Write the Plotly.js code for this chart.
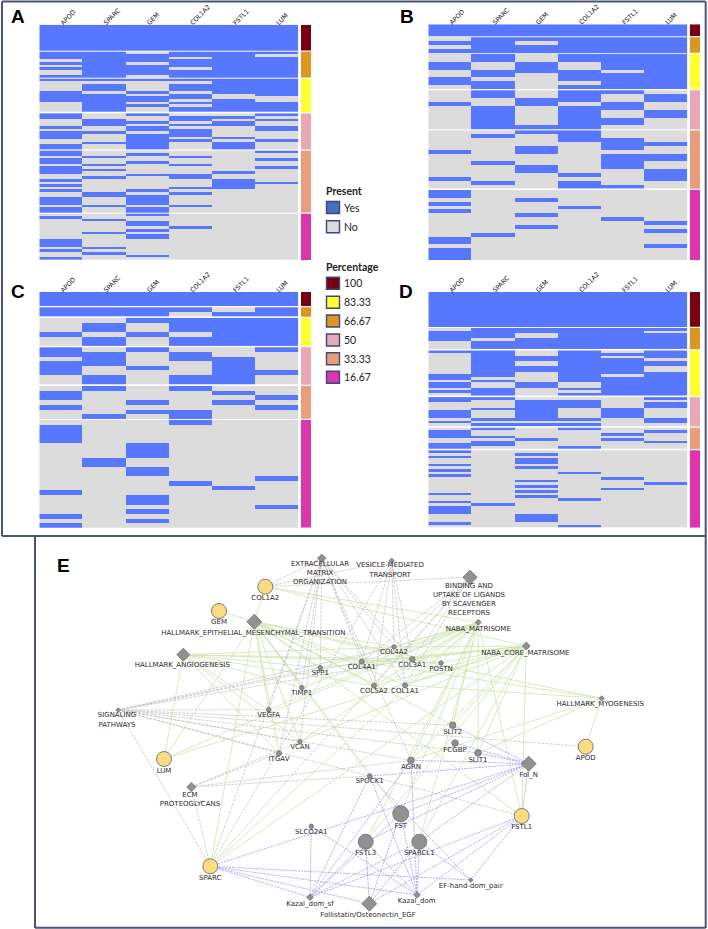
<!DOCTYPE html>
<html><head><meta charset="utf-8">
<script src="https://cdn.plot.ly/plotly-3.0.1.min.js"></script>
<style>html,body{margin:0;padding:0;background:#fff}#g{width:708px;height:929px}</style>
</head><body><div id="g"></div>
<script>
const genes = ["APOD","SPARC","GEM","COL1A2","FSTL1","LUM"];
const pctLabels = ["100","83.33","66.67","50","33.33","16.67"];
const pctColors = ["#780010","#ffff33","#dc9722","#e9a8b8","#e89e7a","#dd35ab"];
const groupPct = ["100","66.67","83.33","50","33.33","16.67"];
const presentLabels = ["Yes","No"];
const presentColors = ["#4a6cc4","#dcdcdc"];

// rows in each percentage group, and the rows per gene/group where the gene is present
const sizesA = [10,10,13,14,24,18];
const presentA = [
 ["*","0-2,4,6,9","0,5-8","0,1,5,7-9,12,13","0,1,3,4,6-8,11,13,15,18-20,22,23","1,10-12,14,17"],
 ["*","*","0,2-4,6-12","2-4,7,11","2,5,7,10,16,17,21","2,7,13,15"],
 ["*","1-3,5-8","0,5,7,8,10","0,3,5,6,8-13","1,4,9,15,17-20,22,23","0,3,4,6,8,9,16"],
 ["*","0,1,3-5,7-9","0,2-4,6,7,9,11,12","1,2,4,6-8,10","2,5,9,10,14,16,21","5"],
 ["*","*","0-5,8-12","1,3,4,9,11-13","8,11-14",""],
 ["*","0,2-9","0-6,9-12","0,2,5,6,10","0,3,6,12",""]];
const sizesB = [3,4,9,10,15,18];
const presentB = [
 ["*","1,3","2,3,6,7","3","5,12","0,1,3,5,12,13,15-17"],
 ["*","*","0,1,4,5,7,8","0,1,4-9","1,8,13","11"],
 ["*","0,2,3","2-4","2,3,9","0,4,5,9,10","2,6,9"],
 ["*","*","0,1,4-6,8","0-2,4-9","0-2,11,13,14","4"],
 ["*","*","0-3,5-8","0,3,4,7,8","2-4,6-9,14","7"],
 ["*","*","*","1,2,5,6","3,6,7,10-12","8,10,14"]];
const sizesC = [3,2,6,8,7,23];
const presentC = [
 ["*","*","3","0,1,3-5","1,2,4","1-4,15,20,22"],
 ["*","*","1,2,4,5","1-3,6,7","0,6","8,9"],
 ["*","*","0,3","0,4","3,5","5-7,10,11,16,17,19,21"],
 ["*","0","0-2,4,5","1,2,6,7","0,5,6","0,13"],
 ["*","1","*","2-7","1,3","14"],
 ["*","*","*","0,5","2,4","12,18"]];
const sizesD = [13,8,17,11,8,29];
const presentD = [
 ["*","1-4","0,9,10,12,13,15","0,1,5-7,9","1-3,6,7","0,2,5,7,9,16,19,21-23,27"],
 ["*","0-3,5-7","0-9,11,14-16","0,4,8,10","0,3,5,6","20"],
 ["*","0,1,4-7","2,3,6,7,12,13","1-8,10","4","1,3,4,6,11,13,15,17,24-26"],
 ["*","*","0-11,14,16","1-3,8,10","0,7","8,18,28"],
 ["*","*","1,3-8,10-16","4-7","2,4","10,14"],
 ["*","0,2-7","0-2,4,5,8-16","0,2,3,8,9","1,5","12"]];

// network: layout positions, symbol size class, kind and label
const nodeNames = ["EXTRA","VESICLE","BINDING","EMT","ANGIO","NABA","CORE","MYO","SIGNAL","ECM","FolN","KazalSf","Kazal","FollEGF","EFhand",
 "COL1A2","GEM","LUM","SPARC","APOD","FSTL1",
 "SPP1","TIMP1","COL4A1","COL4A2","COL3A1","POSTN","COL5A2","COL1A1","VEGFA","VCAN","ITGAV","SLIT2","FCGBP","SLIT1","AGRN","SPOCK1","SLCO2A1","FST","FSTL3","SPARCL1"];
const nodeX = [321.7,391.7,470,254.3,183.3,478.3,526.3,601.7,118.3,191.3,528.7,310,417,369.3,470.7,
 265.3,219,164,210.3,585.7,521.7,
 320.3,301.7,361.7,394,412.3,441,374,405,268.7,300,279,452.7,455,478,411,369.7,311.3,400.7,365.7,419.3];
const nodeY = [558.3,560.7,577.3,621.7,654.7,622.3,646,698.3,710,787,763.7,897.3,895,903.7,880,
 586.7,611,759,866.3,746.7,816,
 667.7,687.7,661.7,647,659.3,663,685.7,685.3,709.7,741.7,753.3,725.3,743,753,760.3,776,826.3,813.7,841.7,841.7];
const nodeSize = [6.5,4,11,11.5,10,4.5,6,4,3.5,7,11.5,5,5,11.5,3.5,
 15,15,15,15,15,15,
 4.5,4.5,5,4.5,5.5,4.5,5,5,4.5,4.5,5,6.5,6.5,6.5,6.5,4.5,4.5,16,15,15];
const labelText = ["EXTRACELLULAR<br>MATRIX<br>ORGANIZATION","VESICLE-MEDIATED<br>TRANSPORT","BINDING AND<br>UPTAKE OF LIGANDS<br>BY SCAVENGER<br>RECEPTORS","HALLMARK_EPITHELIAL_MESENCHYMAL_TRANSITION","HALLMARK_ANGIOGENESIS","NABA_MATRISOME","NABA_CORE_MATRISOME","HALLMARK_MYOGENESIS","SIGNALING<br>PATHWAYS","ECM<br>PROTEOGLYCANS","Fol_N","Kazal_dom_sf","Kazal_dom","Follistatin/Osteonectin_EGF","EF-hand-dom_pair",
 "COL1A2","GEM","LUM","SPARC","APOD","FSTL1",
 "SPP1","TIMP1","COL4A1","COL4A2","COL3A1","POSTN","COL5A2","COL1A1","VEGFA","VCAN","ITGAV","SLIT2","FCGBP","SLIT1","AGRN","SPOCK1","SLCO2A1","FST","FSTL3","SPARCL1"];
const labelX = [320,390,469,253.3,182.3,478.3,525.3,600.3,117,190,528.7,310,416.7,368,470.7,
 265.3,219,164,210.3,585.7,521.7,
 320.3,301.7,361.7,394,412.3,441,374,405,268.7,300,279,452.7,455,478,411,369.7,311.3,400.7,365.7,419.3];
const labelY = [573.5,570.3,599.7,633.7,665.3,629,653.3,704.7,720.3,799.7,775.7,904,901.7,915.7,886,
 598.3,622.7,771,878.3,758.7,827.7,
 673.3,693.3,667.3,652.7,665.7,669,691.7,691.7,715.3,747.3,759.7,732.3,750,760,767.3,781.7,832.3,826,853.3,853.3];
const diamondCount = 15;
const geneNodeCount = 6;

const greyEdges = [
 ["EXTRA",["COL1A2","SPP1","TIMP1","COL4A1","COL4A2","COL3A1","COL5A2","COL1A1","VCAN","ITGAV","SPARC","AGRN","VEGFA"]],
 ["VESICLE",["COL1A2","COL4A1","COL4A2","COL3A1","COL5A2","COL1A1","SPARC"]],
 ["BINDING",["COL1A2","COL4A1","COL4A2","COL3A1","COL5A2","COL1A1","SPARC"]],
 ["SIGNAL",["COL4A1","COL4A2","COL3A1","VEGFA","VCAN","ITGAV","AGRN","SPARC","FSTL1","APOD","SLIT2","SLIT1","SPP1"]],
 ["ECM",["ITGAV","VCAN","AGRN","SPOCK1","SPARC"]]];
const greenEdges = [
 ["EMT",["GEM","COL1A2","LUM","SPARC","FSTL1","COL1A1","COL3A1","COL4A1","COL4A2","COL5A2","POSTN","TIMP1","SPP1","VCAN","VEGFA","ITGAV","FST","SLIT2","SPOCK1"]],
 ["ANGIO",["LUM","COL3A1","COL5A2","POSTN","SPP1","TIMP1","VCAN","VEGFA","ITGAV","COL4A2"]],
 ["NABA",["COL1A2","LUM","SPARC","FSTL1","COL1A1","COL3A1","COL4A1","COL4A2","COL5A2","POSTN","SPP1","TIMP1","VCAN","VEGFA","SLIT2","SLIT1","AGRN","FST","SPARCL1","FSTL3"]],
 ["CORE",["COL1A2","LUM","SPARC","FSTL1","COL1A1","COL3A1","COL4A1","COL4A2","COL5A2","POSTN","SPP1","VCAN","SLIT2","SLIT1","AGRN","FSTL3","SPARCL1"]],
 ["MYO",["COL1A1","COL4A1","COL3A1","APOD","SLIT1","AGRN"]]];
const blueEdges = [
 ["FolN",["SLIT2","FCGBP","SLIT1","AGRN","FSTL1","FST","FSTL3","SPARCL1","SPOCK1","SPARC"]],
 ["KazalSf",["SPARC","SLCO2A1","SPOCK1","FST","FSTL3","SPARCL1","FSTL1","AGRN"]],
 ["Kazal",["SPARC","SPOCK1","FST","FSTL3","SPARCL1","FSTL1","AGRN","SLCO2A1"]],
 ["FollEGF",["SPARC","FST","FSTL3","SPARCL1","FSTL1"]],
 ["EFhand",["SPARC","SPOCK1","SPARCL1","FSTL1"]]];

// ---------- layout constants ----------
const W = 708, H = 929;
const panelBoxes = [
 {name:"A",sizes:sizesA,present:presentA,x0:39.3,x1:298.3,sx0:301,sx1:311,y0:24.7,y1:260,lx:17.5,ly:16.5},
 {name:"B",sizes:sizesB,present:presentB,x0:428.3,x1:687.3,sx0:689.7,sx1:700,y0:24.3,y1:260,lx:406.5,ly:16.5},
 {name:"C",sizes:sizesC,present:presentC,x0:39.3,x1:298.3,sx0:301,sx1:311,y0:292,y1:527.7,lx:18,ly:291},
 {name:"D",sizes:sizesD,present:presentD,x0:428.3,x1:687.3,sx0:689.7,sx1:700,y0:292,y1:527.7,lx:406,ly:291}];
const GAP_PX = 1.25;
const HEAT_BLUE = "#5877ff", HEAT_GREY = "#dcdcdc";

function parseRows(spec,n){
  const r = new Array(n).fill(0);
  if(spec==="*") return r.map(()=>1);
  if(!spec) return r;
  spec.split(",").forEach(p=>{
    const [a,b] = p.split("-").map(Number);
    for(let i=a;i<=(b===undefined?a:b);i++) r[i]=1;
  });
  return r;
}

const traces = [], layout = {
  width:W,height:H,margin:{l:0,r:0,t:0,b:0,pad:0},paper_bgcolor:"#fff",plot_bgcolor:"rgba(0,0,0,0)",
  showlegend:false,hovermode:false,shapes:[],annotations:[],
  font:{family:"Liberation Sans, sans-serif",color:"#222"}
};

panelBoxes.forEach((p,pi)=>{
  const n = 3*pi;
  const xh = n+1, xs = n+2, yh = n+1;
  const xhName = "x"+xh, xsName = "x"+xs, yName = "y"+yh;
  const total = p.sizes.reduce((a,b)=>a+b,0);
  const rowH = ((p.y1-p.y0)-GAP_PX*(p.sizes.length-1))/total;
  const gap = GAP_PX/rowH;
  const span = total+gap*(p.sizes.length-1);
  layout["xaxis"+xh] = {domain:[p.x0/W,p.x1/W],anchor:yName,side:"top",type:"category",categoryorder:"array",categoryarray:genes,
    range:[-0.5,5.5],showgrid:false,zeroline:false,showline:false,ticks:"",tickangle:-45,
    tickfont:{size:6.4,color:"#111",family:"DejaVu Sans, sans-serif"},automargin:false,fixedrange:true,ticklabelstandoff:-4};
  layout["xaxis"+xs] = {domain:[p.sx0/W,p.sx1/W],anchor:yName,range:[-0.5,0.5],visible:false,fixedrange:true};
  layout["yaxis"+yh] = {domain:[1-p.y1/H,1-p.y0/H],anchor:xhName,range:[span,0],visible:false,fixedrange:true};
  let off = 0;
  p.sizes.forEach((sz,g)=>{
    const cols = p.present.map(col=>parseRows(col[g],sz));
    const z = [], ys = [];
    for(let r=0;r<sz;r++){ z.push(cols.map(c=>c[r])); ys.push(off+r+0.5); }
    traces.push({type:"heatmap",x:genes,y:ys,z:z,zmin:0,zmax:1,showscale:false,hoverinfo:"skip",
      colorscale:[[0,HEAT_GREY],[1,HEAT_BLUE]],xaxis:xhName,yaxis:yName,xgap:0,ygap:0});
    traces.push({type:"bar",x:[0],y:[sz],base:[off],width:[1],xaxis:xsName,yaxis:yName,hoverinfo:"skip",
      marker:{color:pctColors[pctLabels.indexOf(groupPct[g])],line:{width:0}}});
    off += sz+gap;
  });
});
layout.barmode = "overlay";

// overlay page axis for network and legend
const ov = 13;
layout["xaxis"+ov] = {domain:[0,1],range:[0,W],visible:false,anchor:"y"+ov,fixedrange:true};
layout["yaxis"+ov] = {domain:[0,1],range:[H,0],visible:false,anchor:"x"+ov,fixedrange:true};
const ovx = "x"+ov, ovy = "y"+ov;

function edgeTrace(list,color,dash,width){
  const xs=[],ys=[];
  list.forEach(([s,ts])=>{
    const a = nodeNames.indexOf(s);
    ts.forEach(t=>{
      const b = nodeNames.indexOf(t);
      xs.push(nodeX[a],nodeX[b],null); ys.push(nodeY[a],nodeY[b],null);
    });
  });
  return {type:"scatter",mode:"lines",x:xs,y:ys,xaxis:ovx,yaxis:ovy,hoverinfo:"skip",line:{color:color,width:width,dash:dash}};
}
traces.push(edgeTrace(greenEdges,"#d2e3b2",null,0.8));
traces.push(edgeTrace(greyEdges,"#c0c0c0","3px,1px",0.7));
traces.push(edgeTrace(blueEdges,"#a299f2","2px,1px",0.8));

const sym = nodeNames.map((_,i)=> i<diamondCount ? "diamond" : "circle");
const fill = nodeNames.map((_,i)=> (i>=diamondCount && i<diamondCount+geneNodeCount) ? "#fadc82" : "#919191");
const edge = nodeNames.map((_,i)=> (i>=diamondCount && i<diamondCount+geneNodeCount) ? "#5f5f5f" : "#6f6f6f");
traces.push({type:"scatter",mode:"markers",x:nodeX,y:nodeY,xaxis:ovx,yaxis:ovy,hoverinfo:"skip",
  marker:{symbol:sym,size:nodeSize,color:fill,opacity:1,line:{color:edge,width:0.8}}});
traces.push({type:"scatter",mode:"text",x:labelX,y:labelY,text:labelText,textposition:"middle center",xaxis:ovx,yaxis:ovy,hoverinfo:"skip",
  textfont:{family:"DejaVu Sans, sans-serif",size:7,color:"#2b2b2b"}});

// frames
const FRAME = "#4a5578";
[[2,1.5,705.7,1.5],[2,1.5,2,536],[2,536,705.7,536],[705.7,1.5,705.7,928],[35,536,35,928],[35,927.7,705.7,927.7]].forEach(s=>{
  layout.shapes.push({type:"line",xref:ovx,yref:ovy,x0:s[0],y0:s[1],x1:s[2],y1:s[3],line:{color:FRAME,width:2}});
});

// panel letters
panelBoxes.map(p=>[p.name,p.lx,p.ly]).concat([["E",63,565]]).forEach(l=>{
  layout.annotations.push({xref:ovx,yref:ovy,x:l[1],y:l[2],text:l[0],showarrow:false,xanchor:"center",yanchor:"middle",
    font:{family:"Liberation Sans, sans-serif",size:19,color:"#000",weight:700}});
});

// legend
const LEG = "Lato, sans-serif";
function legendTitle(t,y){ layout.annotations.push({xref:ovx,yref:ovy,x:326,y:y,text:"<b>"+t+"</b>",showarrow:false,xanchor:"left",yanchor:"middle",xshift:-2,
   font:{family:LEG,size:10.5,color:"#222"}}); }
function legendItem(t,c,y){
  layout.shapes.push({type:"rect",xref:ovx,yref:ovy,x0:326.5,x1:339.5,y0:y-6,y1:y+6,fillcolor:c,line:{color:"#3d4a78",width:1.4}});
  layout.annotations.push({xref:ovx,yref:ovy,x:344,y:y,text:t,showarrow:false,xanchor:"left",yanchor:"middle",xshift:-2,font:{family:LEG,size:10.5,color:"#222"}});
}
legendTitle("Present",191);
const presentY = [207.5,226.7];
presentLabels.forEach((t,i)=>legendItem(t,presentColors[i],presentY[i]));
legendTitle("Percentage",266.7);
const pctY = [283.3,302.3,321,340,358.7,377.3];
pctLabels.forEach((t,i)=>legendItem(t,pctColors[i],pctY[i]));

Plotly.newPlot("g",traces,layout,{staticPlot:true,displayModeBar:false});
</script></body></html>
